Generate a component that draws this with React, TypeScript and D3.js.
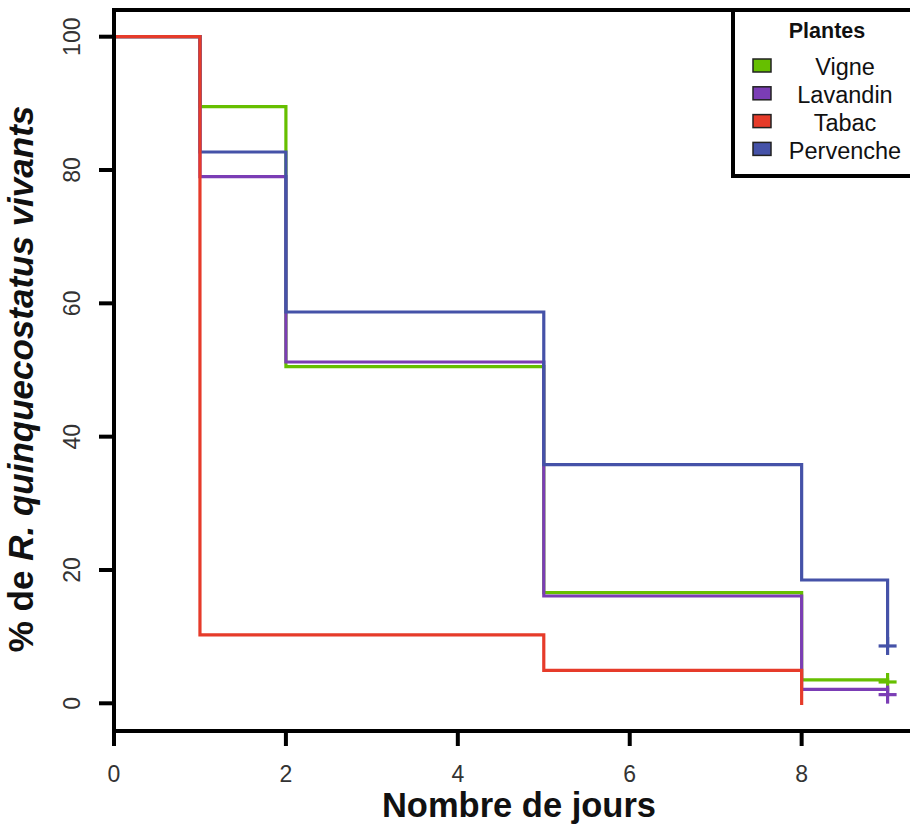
import React from "react";
import * as d3 from "d3";

const plantNames = ["Vigne", "Lavandin", "Tabac", "Pervenche"];
const plantColors = ["#66BF00", "#7B3DB5", "#E63B2A", "#4552A8"];

const vigneDays = [0, 1, 2, 5, 8, 9];
const vigneSurv = [100, 89.5, 50.5, 16.6, 3.5, 3.2];
const lavandinDays = [0, 1, 2, 5, 8, 9];
const lavandinSurv = [100, 79.0, 51.2, 16.1, 2.1, 1.3];
const tabacDays = [0, 1, 5, 8];
const tabacSurv = [100, 10.25, 4.95, 0];
const pervencheDays = [0, 1, 2, 5, 8, 9];
const pervencheSurv = [100, 82.7, 58.7, 35.8, 18.5, 8.6];

// censored points (day, %) : Vigne, Lavandin, Pervenche
const censorPlants = ["Vigne", "Lavandin", "Pervenche"];
const censorDays = [9, 9, 9];
const censorSurv = [3.2, 1.3, 8.6];

const xTicks = [0, 2, 4, 6, 8];
const yTicks = [0, 20, 40, 60, 80, 100];

const xTitle = "Nombre de jours";
const legendTitle = "Plantes";

const W = 910;
const H = 827;
const FONT = "'Liberation Sans', Arial, Helvetica, sans-serif";

export default function App() {
  const x = d3.scaleLinear().domain([0, 9]).range([114, 887.6]);
  const y = d3.scaleLinear().domain([0, 100]).range([703.3, 36.7]);

  const series = [
    { name: "Vigne", days: vigneDays, surv: vigneSurv },
    { name: "Lavandin", days: lavandinDays, surv: lavandinSurv },
    { name: "Pervenche", days: pervencheDays, surv: pervencheSurv },
    { name: "Tabac", days: tabacDays, surv: tabacSurv },
  ];
  const colorOf = (n: string) => plantColors[plantNames.indexOf(n)];

  const line = d3
    .line<[number, number]>()
    .x((d) => x(d[0]))
    .y((d) => y(d[1]))
    .curve(d3.curveStepAfter);

  const axisY = 731;
  const axisX = 114;
  const topY = 10;

  return (
    <svg
      width={W}
      height={H}
      style={{ position: "absolute", left: 0, top: 0, background: "#fff" }}
      fontFamily={FONT}
    >
      <rect x={0} y={0} width={W} height={H} fill="#fff" />
      {/* series */}
      {series.map((s) => (
        <path
          key={s.name}
          d={line(s.days.map((d, i) => [d, s.surv[i]] as [number, number])) || ""}
          fill="none"
          stroke={colorOf(s.name)}
          strokeWidth={3.2}
          strokeLinejoin="miter"
          strokeLinecap="square"
        />
      ))}
      {/* censor marks */}
      {censorPlants.map((n, i) => {
        const cx = x(censorDays[i]);
        const cy = y(censorSurv[i]);
        return (
          <g key={n} stroke={colorOf(n)} strokeWidth={3.2}>
            <line x1={cx - 9} x2={cx + 9} y1={cy} y2={cy} />
            <line x1={cx} x2={cx} y1={cy - 9} y2={cy + 9} />
          </g>
        );
      })}
      {/* frame / axes */}
      <line x1={axisX} x2={W + 5} y1={topY} y2={topY} stroke="#000" strokeWidth={4} />
      <line x1={axisX} x2={axisX} y1={topY - 2} y2={axisY + 15} stroke="#000" strokeWidth={4} />
      <line x1={axisX - 2} x2={W + 5} y1={axisY} y2={axisY} stroke="#000" strokeWidth={4} />
      {/* y ticks */}
      {yTicks.map((t) => (
        <g key={"y" + t}>
          <line x1={axisX - 15} x2={axisX} y1={y(t)} y2={y(t)} stroke="#000" strokeWidth={4} />
          <text
            transform={`translate(80,${y(t)}) rotate(-90)`}
            textAnchor="middle"
            fontSize={23}
            fill="#333"
          >
            {t}
          </text>
        </g>
      ))}
      {/* x ticks */}
      {xTicks.map((t) => (
        <g key={"x" + t}>
          <line x1={x(t)} x2={x(t)} y1={axisY} y2={axisY + 15} stroke="#000" strokeWidth={4} />
          <text x={x(t)} y={782} textAnchor="middle" fontSize={23} fill="#333">
            {t}
          </text>
        </g>
      ))}
      {/* axis titles */}
      <text x={519} y={817} textAnchor="middle" fontSize={34.5} fontWeight="bold" fill="#111">
        {xTitle}
      </text>
      <text
        transform={`translate(33,379) rotate(-90)`}
        textAnchor="middle"
        fontSize={35}
        fontWeight="bold"
        fill="#111"
      >
        <tspan>% de </tspan>
        <tspan fontStyle="italic">R. quinquecostatus vivants</tspan>
      </text>
      {/* legend */}
      <rect x={733} y={topY} width={W} height={166} fill="#fff" stroke="#000" strokeWidth={4} />
      <text x={827} y={38} textAnchor="middle" fontSize={21.5} fontWeight="bold" fill="#111">
        {legendTitle}
      </text>
      {plantNames.map((n, i) => (
        <g key={n}>
          <rect
            x={753}
            y={59 + i * 27.8}
            width={18}
            height={13}
            fill={plantColors[i]}
            stroke="#222"
            strokeWidth={1.5}
          />
          <text x={845} y={74.5 + i * 28} textAnchor="middle" fontSize={23.5} fill="#111">
            {n}
          </text>
        </g>
      ))}
    </svg>
  );
}
